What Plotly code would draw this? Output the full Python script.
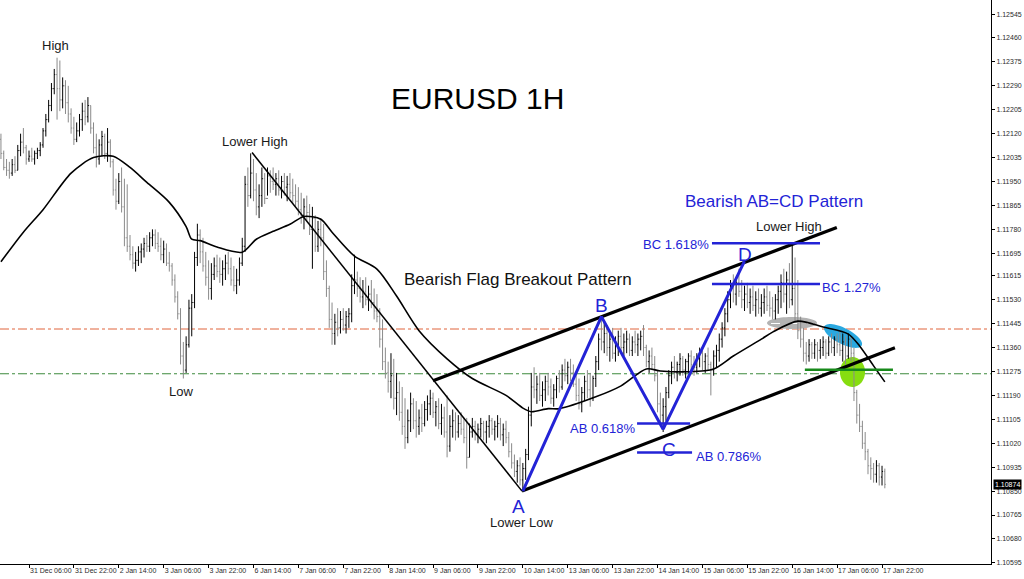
import numpy as np
import plotly.graph_objects as go

# ---------------- data ----------------
bar_index = list(range(6, 322))  # hourly bar number (0 = 30 Dec 14:00)

bar_high = [
    1.1212, 1.1206, 1.1203, 1.1202, 1.1203, 1.1204, 1.1208, 1.1212, 1.1214, 1.1208,
    1.1206, 1.1207, 1.1206, 1.1207, 1.1209, 1.1214, 1.1219, 1.1224, 1.1230, 1.1235,
    1.1239, 1.1238, 1.1232, 1.1231, 1.1229, 1.1221, 1.1218, 1.1216, 1.1219, 1.1223,
    1.1224, 1.1225, 1.1222, 1.1216, 1.1212, 1.1210, 1.1213, 1.1212, 1.1214, 1.1210,
    1.1203, 1.1196, 1.1198, 1.1200, 1.1196, 1.1194, 1.1176, 1.1172, 1.1170, 1.1172,
    1.1173, 1.1175, 1.1176, 1.1177, 1.1178, 1.1178, 1.1177, 1.1175, 1.1174, 1.1173,
    1.1170, 1.1166, 1.1162, 1.1156, 1.1150, 1.1138, 1.1140, 1.1153, 1.1155, 1.1170,
    1.1180, 1.1178, 1.1175, 1.1170, 1.1167, 1.1166, 1.1168, 1.1169, 1.1168, 1.1167,
    1.1169, 1.1170, 1.1168, 1.1165, 1.1164, 1.1168, 1.1175, 1.1197, 1.1200, 1.1205,
    1.1203, 1.1198, 1.1194, 1.1200, 1.1198, 1.1200, 1.1199, 1.1200, 1.1198, 1.1199,
    1.1197, 1.1198, 1.1197, 1.1198, 1.1196, 1.1194, 1.1193, 1.1191, 1.1189, 1.1190,
    1.1187, 1.1186, 1.1183, 1.1181, 1.1182, 1.1180, 1.1167, 1.1158, 1.1152, 1.1148,
    1.1150, 1.1149, 1.1150, 1.1149, 1.1150, 1.1162, 1.1169, 1.1163, 1.1161, 1.1160,
    1.1161, 1.1158, 1.1160, 1.1157, 1.1155, 1.1150, 1.1146, 1.1136, 1.1131, 1.1134,
    1.1132, 1.1127, 1.1124, 1.1122, 1.1118, 1.1114, 1.1120, 1.1118, 1.1117, 1.1114,
    1.1116, 1.1117, 1.1119, 1.1121, 1.1120, 1.1117, 1.1118, 1.1116, 1.1115, 1.1119,
    1.1112, 1.1114, 1.1113, 1.1112, 1.1113, 1.1111, 1.1111, 1.1109, 1.1111, 1.1110,
    1.1109, 1.1111, 1.1110, 1.1110, 1.1112, 1.1111, 1.1110, 1.1112, 1.1111, 1.1109,
    1.1110, 1.1106, 1.1102, 1.1098, 1.1096, 1.1097, 1.1095, 1.1100, 1.1115, 1.1127,
    1.1129, 1.1126, 1.1127, 1.1124, 1.1126, 1.1127, 1.1125, 1.1123, 1.1126, 1.1128,
    1.1130, 1.1132, 1.1131, 1.1132, 1.1130, 1.1127, 1.1125, 1.1122, 1.1126, 1.1128,
    1.1127, 1.1126, 1.1133, 1.1141, 1.1147, 1.1145, 1.1144, 1.1141, 1.1143, 1.1140,
    1.1142, 1.1143, 1.1141, 1.1142, 1.1141, 1.1140, 1.1142, 1.1141, 1.1142, 1.1144,
    1.1137, 1.1135, 1.1136, 1.1133, 1.1128, 1.1120, 1.1118, 1.1122, 1.1128, 1.1131,
    1.1133, 1.1131, 1.1134, 1.1133, 1.1132, 1.1134, 1.1135, 1.1133, 1.1134, 1.1136,
    1.1135, 1.1134, 1.1136, 1.1131, 1.1135, 1.1137, 1.1141, 1.1145, 1.1150, 1.1156,
    1.1160, 1.1162, 1.1161, 1.1164, 1.1160, 1.1158, 1.1159, 1.1157, 1.1158, 1.1156,
    1.1157, 1.1155, 1.1157, 1.1158, 1.1156, 1.1154, 1.1155, 1.1158, 1.1162, 1.1164,
    1.1163, 1.1166, 1.1173, 1.1168, 1.1160, 1.1147, 1.1143, 1.1138, 1.1139, 1.1138,
    1.1139, 1.1138, 1.1139, 1.1140, 1.1139, 1.1140, 1.1141, 1.1140, 1.1141, 1.1142,
    1.1141, 1.1140, 1.1141, 1.1140, 1.1136, 1.1121, 1.1116, 1.1110, 1.1106, 1.1100,
    1.1097, 1.1095, 1.1096, 1.1095, 1.1094, 1.1093,
]

bar_low = [
    1.1203, 1.1199, 1.1197, 1.1196, 1.1197, 1.1198, 1.1199, 1.1204, 1.1205, 1.1201,
    1.1202, 1.1202, 1.1201, 1.1203, 1.1204, 1.1207, 1.1211, 1.1216, 1.1220, 1.1226,
    1.1217, 1.1220, 1.1221, 1.1219, 1.1216, 1.1212, 1.1208, 1.1209, 1.1211, 1.1213,
    1.1215, 1.1216, 1.1212, 1.1205, 1.1200, 1.1201, 1.1204, 1.1203, 1.1202, 1.1200,
    1.1190, 1.1185, 1.1187, 1.1184, 1.1172, 1.1170, 1.1167, 1.1164, 1.1163, 1.1165,
    1.1166, 1.1168, 1.1170, 1.1170, 1.1172, 1.1171, 1.1170, 1.1167, 1.1166, 1.1165,
    1.1163, 1.1158, 1.1152, 1.1146, 1.1130, 1.1125, 1.1127, 1.1136, 1.1140, 1.1150,
    1.1165, 1.1166, 1.1163, 1.1158, 1.1153, 1.1153, 1.1160, 1.1161, 1.1159, 1.1158,
    1.1160, 1.1162, 1.1158, 1.1156, 1.1155, 1.1158, 1.1165, 1.1170, 1.1186, 1.1189,
    1.1188, 1.1183, 1.1182, 1.1186, 1.1187, 1.1190, 1.1191, 1.1192, 1.1190, 1.1190,
    1.1189, 1.1190, 1.1188, 1.1189, 1.1187, 1.1186, 1.1183, 1.1180, 1.1178, 1.1181,
    1.1176, 1.1164, 1.1170, 1.1170, 1.1172, 1.1160, 1.1154, 1.1143, 1.1137, 1.1137,
    1.1140, 1.1141, 1.1142, 1.1141, 1.1143, 1.1145, 1.1155, 1.1154, 1.1152, 1.1150,
    1.1151, 1.1149, 1.1150, 1.1146, 1.1145, 1.1136, 1.1128, 1.1125, 1.1120, 1.1118,
    1.1114, 1.1112, 1.1110, 1.1105, 1.1100, 1.1102, 1.1106, 1.1107, 1.1104, 1.1105,
    1.1106, 1.1108, 1.1110, 1.1112, 1.1111, 1.1108, 1.1107, 1.1105, 1.1104, 1.1097,
    1.1099, 1.1104, 1.1103, 1.1104, 1.1105, 1.1102, 1.1093, 1.1097, 1.1104, 1.1103,
    1.1102, 1.1104, 1.1103, 1.1102, 1.1104, 1.1105, 1.1103, 1.1104, 1.1103, 1.1101,
    1.1102, 1.1097, 1.1093, 1.1090, 1.1088, 1.1087, 1.1085, 1.1089, 1.1096, 1.1108,
    1.1118, 1.1116, 1.1117, 1.1115, 1.1117, 1.1119, 1.1116, 1.1115, 1.1118, 1.1120,
    1.1121, 1.1124, 1.1123, 1.1124, 1.1122, 1.1117, 1.1114, 1.1113, 1.1117, 1.1118,
    1.1115, 1.1117, 1.1122, 1.1128, 1.1135, 1.1134, 1.1133, 1.1131, 1.1132, 1.1131,
    1.1133, 1.1134, 1.1133, 1.1134, 1.1133, 1.1133, 1.1134, 1.1133, 1.1135, 1.1133,
    1.1129, 1.1127, 1.1128, 1.1124, 1.1113, 1.1108, 1.1106, 1.1110, 1.1118, 1.1123,
    1.1125, 1.1124, 1.1126, 1.1126, 1.1125, 1.1127, 1.1128, 1.1126, 1.1127, 1.1129,
    1.1128, 1.1127, 1.1128, 1.1119, 1.1126, 1.1129, 1.1131, 1.1136, 1.1140, 1.1145,
    1.1150, 1.1152, 1.1151, 1.1154, 1.1150, 1.1149, 1.1150, 1.1148, 1.1149, 1.1147,
    1.1148, 1.1147, 1.1148, 1.1149, 1.1147, 1.1146, 1.1146, 1.1148, 1.1150, 1.1152,
    1.1148, 1.1150, 1.1151, 1.1145, 1.1139, 1.1136, 1.1131, 1.1130, 1.1131, 1.1132,
    1.1132, 1.1131, 1.1132, 1.1133, 1.1132, 1.1133, 1.1134, 1.1133, 1.1134, 1.1133,
    1.1131, 1.1130, 1.1132, 1.1131, 1.1117, 1.1109, 1.1106, 1.1100, 1.1096, 1.1091,
    1.1089, 1.1088, 1.1088, 1.1087, 1.1087, 1.1086,
]

bar_close = [
    1.1205, 1.1200, 1.1199, 1.1198, 1.1201, 1.1199, 1.1206, 1.1209, 1.1207, 1.1203,
    1.1204, 1.1203, 1.1205, 1.1206, 1.1208, 1.1213, 1.1217, 1.1222, 1.1228, 1.1233,
    1.1228, 1.1224, 1.1229, 1.1223, 1.1219, 1.1214, 1.1210, 1.1213, 1.1217, 1.1220,
    1.1218, 1.1222, 1.1214, 1.1207, 1.1203, 1.1208, 1.1211, 1.1205, 1.1209, 1.1202,
    1.1192, 1.1188, 1.1195, 1.1186, 1.1175, 1.1172, 1.1169, 1.1166, 1.1167, 1.1170,
    1.1171, 1.1173, 1.1172, 1.1175, 1.1176, 1.1173, 1.1172, 1.1169, 1.1171, 1.1166,
    1.1165, 1.1160, 1.1154, 1.1148, 1.1133, 1.1128, 1.1137, 1.1150, 1.1152, 1.1168,
    1.1176, 1.1170, 1.1165, 1.1161, 1.1157, 1.1162, 1.1165, 1.1163, 1.1162, 1.1164,
    1.1166, 1.1164, 1.1160, 1.1158, 1.1160, 1.1166, 1.1172, 1.1194, 1.1190, 1.1198,
    1.1192, 1.1186, 1.1190, 1.1196, 1.1189, 1.1197, 1.1195, 1.1194, 1.1196, 1.1192,
    1.1195, 1.1193, 1.1194, 1.1191, 1.1190, 1.1188, 1.1185, 1.1183, 1.1186, 1.1184,
    1.1178, 1.1182, 1.1172, 1.1178, 1.1175, 1.1163, 1.1157, 1.1146, 1.1141, 1.1145,
    1.1143, 1.1146, 1.1144, 1.1147, 1.1148, 1.1158, 1.1160, 1.1157, 1.1154, 1.1156,
    1.1153, 1.1155, 1.1152, 1.1149, 1.1147, 1.1139, 1.1131, 1.1127, 1.1124, 1.1126,
    1.1118, 1.1120, 1.1113, 1.1108, 1.1104, 1.1110, 1.1116, 1.1110, 1.1108, 1.1111,
    1.1109, 1.1114, 1.1116, 1.1118, 1.1113, 1.1115, 1.1109, 1.1111, 1.1106, 1.1101,
    1.1108, 1.1110, 1.1106, 1.1109, 1.1107, 1.1104, 1.1097, 1.1106, 1.1108, 1.1105,
    1.1107, 1.1109, 1.1106, 1.1108, 1.1110, 1.1107, 1.1108, 1.1109, 1.1105, 1.1107,
    1.1104, 1.1099, 1.1095, 1.1092, 1.1094, 1.1089, 1.1093, 1.1098, 1.1112, 1.1122,
    1.1121, 1.1123, 1.1119, 1.1121, 1.1124, 1.1122, 1.1118, 1.1121, 1.1125, 1.1122,
    1.1128, 1.1126, 1.1129, 1.1127, 1.1123, 1.1119, 1.1116, 1.1120, 1.1124, 1.1121,
    1.1118, 1.1125, 1.1131, 1.1139, 1.1138, 1.1141, 1.1136, 1.1139, 1.1134, 1.1137,
    1.1140, 1.1136, 1.1138, 1.1139, 1.1135, 1.1138, 1.1137, 1.1139, 1.1140, 1.1136,
    1.1131, 1.1133, 1.1130, 1.1126, 1.1116, 1.1112, 1.1115, 1.1120, 1.1126, 1.1129,
    1.1127, 1.1130, 1.1132, 1.1128, 1.1131, 1.1133, 1.1130, 1.1129, 1.1132, 1.1134,
    1.1131, 1.1133, 1.1130, 1.1128, 1.1133, 1.1135, 1.1139, 1.1143, 1.1148, 1.1153,
    1.1157, 1.1155, 1.1159, 1.1156, 1.1153, 1.1155, 1.1152, 1.1154, 1.1151, 1.1153,
    1.1150, 1.1152, 1.1154, 1.1151, 1.1150, 1.1149, 1.1153, 1.1156, 1.1159, 1.1155,
    1.1160, 1.1153, 1.1157, 1.1148, 1.1142, 1.1139, 1.1134, 1.1133, 1.1137, 1.1134,
    1.1137, 1.1135, 1.1136, 1.1138, 1.1134, 1.1138, 1.1136, 1.1139, 1.1137, 1.1135,
    1.1138, 1.1133, 1.1139, 1.1134, 1.1120, 1.1112, 1.1108, 1.1102, 1.1099, 1.1094,
    1.1093, 1.1091, 1.1094, 1.1090, 1.1092, 1.10874,
]

first_open = 1.1210
bar_open = [first_open] + bar_close[:-1]  # hourly FX bars open at the prior close

# moving average (read at sample bars)
ma_index = [6, 14, 21, 31, 39, 46, 52, 58, 66, 72, 74, 77, 83, 92, 97, 103, 109, 114, 120, 124,
            132, 140, 147, 155, 165, 174, 186, 192, 195, 201, 205, 218, 227, 236, 241, 251, 260,
            267, 277, 281, 290, 299, 308, 312, 317, 321]
ma_value = [1.11665, 1.1177, 1.1185, 1.1198, 1.12035, 1.1204, 1.1200, 1.11947, 1.11876, 1.1179,
            1.11745, 1.1174, 1.11717, 1.11699, 1.11745, 1.11773, 1.11798, 1.11826, 1.11816, 1.1177,
            1.11685, 1.11639, 1.11543, 1.1142, 1.1132, 1.1125, 1.1119, 1.11145, 1.11132, 1.11143,
            1.11143, 1.11185, 1.11224, 1.11284, 1.11277, 1.11274, 1.11284, 1.1133, 1.1139, 1.11415,
            1.11454, 1.11433, 1.11408, 1.11366, 1.11295, 1.11238]

x_tick_index = [16, 32, 48, 64, 80, 96, 112, 128, 144, 160, 176, 192, 208, 224, 240, 256, 272, 288, 304, 320]
x_tick_text = ["31 Dec 06:00", "31 Dec 22:00", "2 Jan 14:00", "3 Jan 06:00", "3 Jan 22:00",
               "6 Jan 14:00", "7 Jan 06:00", "7 Jan 22:00", "8 Jan 14:00", "9 Jan 06:00",
               "9 Jan 22:00", "10 Jan 14:00", "13 Jan 06:00", "13 Jan 22:00", "14 Jan 14:00",
               "15 Jan 06:00", "15 Jan 22:00", "16 Jan 14:00", "17 Jan 06:00", "17 Jan 22:00"]
y_tick_values = [1.12545, 1.12460, 1.12375, 1.12290, 1.12205, 1.12120, 1.12035, 1.11950, 1.11865,
                 1.11780, 1.11695, 1.11615, 1.11530, 1.11445, 1.11360, 1.11275, 1.11190, 1.11105,
                 1.11020, 1.10935, 1.10850, 1.10765, 1.10680, 1.10595]

pattern_labels = ["A", "B", "C", "D"]
pattern_index = [192, 220, 242, 271]
pattern_price = [1.1085, 1.1147, 1.1107, 1.11667]

downtrend_index = [95.5, 191.7]
downtrend_price = [1.12053, 1.1085]
upper_channel_index = [160.0, 303.9]
upper_channel_price = [1.11242, 1.11787]
lower_channel_index = [191.7, 324.6]
lower_channel_price = [1.1085, 1.11359]

fib_names = ["BC 1.618%", "BC 1.27%", "AB 0.618%", "AB 0.786%"]
fib_price = [1.11731, 1.11586, 1.1109, 1.10987]
fib_start = [259.4, 259.4, 232.7, 232.7]
fib_end = [297.9, 297.9, 251.6, 252.3]

breakout_price = 1.11281
breakout_start, breakout_end = 292.5, 323.9
level_red = 1.11426
level_green = 1.11267
last_price = 1.10874

# ---------------- geometry helpers (pixel -> axis) ----------------
PLOT_W, PLOT_H = 991, 564
YTOP, YBOT = 1.12595, 1.10591
def px_x(px):
    return (px + 15.9) / 2.806
def px_y(py):
    return YTOP - py * (YTOP - YBOT) / PLOT_H

BLUE = "#2323d6"
FONT = "Liberation Sans, Arial, sans-serif"

fig = go.Figure()

fig.add_trace(go.Ohlc(
    x=bar_index, open=bar_open, high=bar_high, low=bar_low, close=bar_close,
    increasing=dict(line=dict(color="#000000", width=1)),
    decreasing=dict(line=dict(color="#8a8a8a", width=1)),
    tickwidth=0.35, hoverinfo="skip", showlegend=False))

fig.add_trace(go.Scatter(x=ma_index, y=ma_value, mode="lines",
                         line=dict(color="black", width=1.6, shape="spline", smoothing=0.8),
                         hoverinfo="skip"))

fig.add_trace(go.Scatter(x=downtrend_index, y=downtrend_price, mode="lines",
                         line=dict(color="black", width=1.5), hoverinfo="skip"))
for xs, ys in [(upper_channel_index, upper_channel_price), (lower_channel_index, lower_channel_price)]:
    fig.add_trace(go.Scatter(x=xs, y=ys, mode="lines", line=dict(color="black", width=3.2),
                             hoverinfo="skip"))

fig.add_trace(go.Scatter(x=pattern_index, y=pattern_price, mode="lines",
                         line=dict(color=BLUE, width=3), hoverinfo="skip"))

for name, p, a, b in zip(fib_names, fib_price, fib_start, fib_end):
    fig.add_trace(go.Scatter(x=[a, b], y=[p, p], mode="lines",
                             line=dict(color=BLUE, width=2.5), hoverinfo="skip"))

fig.add_trace(go.Scatter(x=[breakout_start, breakout_end], y=[breakout_price, breakout_price],
                         mode="lines", line=dict(color="#17891a", width=2.5), hoverinfo="skip"))

# ---------------- decorations ----------------
def ellipse_path(cx, cy, rx, ry, ang_deg):
    t = np.linspace(0, 2 * np.pi, 60)
    a = np.deg2rad(ang_deg)
    ex = cx + rx * np.cos(t) * np.cos(a) - ry * np.sin(t) * np.sin(a)
    ey = cy + rx * np.cos(t) * np.sin(a) + ry * np.sin(t) * np.cos(a)
    pts = [f"{px_x(u):.4f},{px_y(v):.6f}" for u, v in zip(ex, ey)]
    return "M " + " L ".join(pts) + " Z"

shapes = [
    dict(type="line", xref="paper", x0=0, x1=1, yref="y", y0=level_red, y1=level_red,
         line=dict(color="#e0643c", width=1, dash="dashdot"), layer="below"),
    dict(type="line", xref="paper", x0=0, x1=1, yref="y", y0=level_green, y1=level_green,
         line=dict(color="#3d8a3d", width=1, dash="dashdot"), layer="below"),
    dict(type="path", path=ellipse_path(792, 323, 25, 6, 0), fillcolor="#b3b3b3",
         line=dict(width=0), layer="below"),
    dict(type="line", x0=px_x(771), x1=px_x(814), y0=px_y(323.5), y1=px_y(323.5),
         line=dict(color="white", width=1, dash="dash"), layer="below"),
    dict(type="path", path=ellipse_path(843, 336, 21, 8, 27), fillcolor="#2aa8e0",
         line=dict(width=0), layer="below"),
    dict(type="path", path=ellipse_path(852.5, 372, 12.5, 15, 0), fillcolor="#86dd10",
         line=dict(width=0), layer="below"),
]

def note(text, px, py, size=13, color="#1a1a1a", xanchor="center"):
    return dict(text=text, x=px_x(px), y=px_y(py), xref="x", yref="y", showarrow=False,
                xanchor=xanchor, yanchor="middle", font=dict(family=FONT, size=size, color=color))

annotations = [
    note("EURUSD 1H", 477, 98, size=30, color="black"),
    note("High", 55, 45),
    note("Lower High", 255, 141),
    note("Low", 181, 391),
    note("Lower Low", 521, 522),
    note("Lower High", 789, 226),
    note("Bearish Flag Breakout Pattern", 518, 279, size=17, color="#111111"),
    note("Bearish AB=CD Pattern", 774, 201, size=17, color=BLUE),
    note(fib_names[0], 711, 244, color=BLUE, xanchor="right"),
    note(fib_names[1], 820, 287, color=BLUE, xanchor="left"),
    note(fib_names[2], 637, 428, color=BLUE, xanchor="right"),
    note(fib_names[3], 694, 456, color=BLUE, xanchor="left"),
]
label_px = [(518, 506), (601, 305), (669, 449), (745, 254)]
for lab, (lx, ly) in zip(pattern_labels, label_px):
    annotations.append(note(lab, lx, ly, size=19, color=BLUE))

annotations.append(dict(text=f"{last_price:.5f}", xref="paper", x=1.0, xanchor="left", xshift=2,
                        yref="y", y=last_price, yanchor="middle", showarrow=False,
                        bgcolor="black", borderpad=1,
                        font=dict(family=FONT, size=7, color="white")))

tickfont = dict(family=FONT, size=7, color="#2b2b2b")
fig.update_layout(
    width=1024, height=579,
    margin=dict(l=0, r=33, t=0, b=15, autoexpand=False),
    paper_bgcolor="white", plot_bgcolor="white",
    showlegend=False,
    shapes=shapes, annotations=annotations,
    xaxis=dict(range=[px_x(0), px_x(PLOT_W)], showgrid=False, zeroline=False,
               showline=True, linecolor="black", linewidth=1,
               ticks="outside", ticklen=3, tickcolor="black",
               tickvals=x_tick_index, ticktext=x_tick_text, tickangle=0,
               ticklabelposition="outside right", tickfont=tickfont,
               automargin=False,
               rangeslider=dict(visible=False), fixedrange=True),
    yaxis=dict(range=[YBOT, YTOP], side="right", showgrid=False, zeroline=False,
               showline=True, linecolor="black", linewidth=1,
               ticks="outside", ticklen=3, tickcolor="black",
               tickvals=y_tick_values, ticktext=[f"{v:.5f}" for v in y_tick_values],
               tickfont=tickfont, automargin=False, fixedrange=True),
)

fig.write_html("out.html", config={"displayModeBar": False},
               post_script="document.body.style.margin='0';document.body.style.overflow='hidden';")
